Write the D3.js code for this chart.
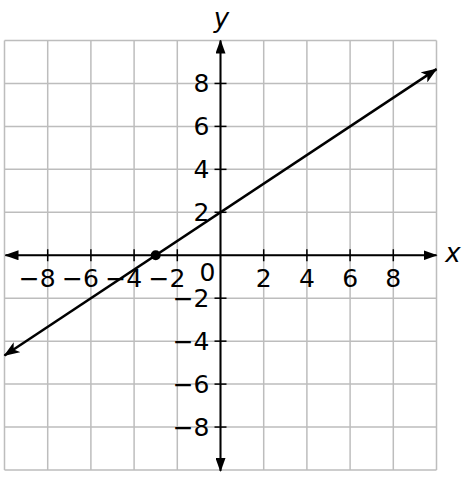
<!DOCTYPE html>
<html><head><meta charset="utf-8">
<script src="https://cdn.jsdelivr.net/npm/d3@7"></script>
<style>html,body{margin:0;padding:0;background:#fff;}svg{display:block;}</style>
</head><body>
<script>
const gridValues = [-10,-8,-6,-4,-2,0,2,4,6,8,10];
const xTickValues = [-8,-6,-4,-2,2,4,6,8];
const yTickValues = [-8,-6,-4,-2,2,4,6,8];
const lineX = [-10, 10];
const lineY = [-14/3, 26/3];
const pointX = [-3];
const pointY = [0];

const W = 466, H = 477;
const x = d3.scaleLinear().domain([-10,10]).range([4.5,436.5]);
const y = d3.scaleLinear().domain([-10,10]).range([470,40.5]);
const svg = d3.select("body").append("svg").attr("width",W).attr("height",H);
const font = "DejaVu Sans, Verdana, sans-serif";

const defs = svg.append("defs");
defs.append("marker").attr("id","arr").attr("viewBox","0 0 16 12")
  .attr("refX",15).attr("refY",6).attr("markerWidth",16).attr("markerHeight",12)
  .attr("markerUnits","userSpaceOnUse").attr("orient","auto-start-reverse")
  .append("path").attr("d","M0,0 L16,6 L0,12 L4,6 Z").attr("fill","#000");
defs.append("marker").attr("id","arrA").attr("viewBox","0 0 14 10")
  .attr("refX",13).attr("refY",5).attr("markerWidth",14).attr("markerHeight",10)
  .attr("markerUnits","userSpaceOnUse").attr("orient","auto-start-reverse")
  .append("path").attr("d","M0,0 L14,5 L0,10 Z").attr("fill","#000");

// grid
const g = svg.append("g").attr("stroke","#bdbdbd").attr("stroke-width",1.5);
g.selectAll("line.v").data(gridValues).join("line")
  .attr("x1",d=>x(d)).attr("x2",d=>x(d)).attr("y1",y(10)).attr("y2",y(-10));
g.selectAll("line.h").data(gridValues).join("line").attr("class","h")
  .attr("y1",d=>y(d)).attr("y2",d=>y(d)).attr("x1",x(-10)).attr("x2",x(10));

// axes
svg.append("line").attr("x1",x(-10)+1).attr("x2",x(10)).attr("y1",y(0)).attr("y2",y(0))
  .attr("stroke","#000").attr("stroke-width",2)
  .attr("marker-start","url(#arrA)").attr("marker-end","url(#arrA)");
svg.append("line").attr("x1",x(0)).attr("x2",x(0)).attr("y1",y(-10)+1).attr("y2",y(10))
  .attr("stroke","#000").attr("stroke-width",2)
  .attr("marker-start","url(#arrA)").attr("marker-end","url(#arrA)");

// ticks
svg.selectAll("line.xt").data(xTickValues).join("line").attr("class","xt")
  .attr("x1",d=>x(d)).attr("x2",d=>x(d)).attr("y1",y(0)-6).attr("y2",y(0)+6)
  .attr("stroke","#000").attr("stroke-width",1.5);
svg.selectAll("line.yt").data(yTickValues).join("line").attr("class","yt")
  .attr("y1",d=>y(d)).attr("y2",d=>y(d)).attr("x1",x(0)-6).attr("x2",x(0)+6)
  .attr("stroke","#000").attr("stroke-width",1.5);

// tick labels
const fs = 25;
const fmt = d => (d<0 ? "\u2212" : "") + Math.abs(d);
svg.selectAll("text.xl").data(xTickValues).join("text").attr("class","xl")
  .attr("x",d=> d<0 ? x(d)+8 : x(d))
  .attr("y",y(0)+32)
  .attr("text-anchor",d=> d<0 ? "end" : "middle")
  .attr("font-family",font).attr("font-size",fs).attr("fill","#000")
  .text(fmt);
svg.selectAll("text.yl").data(yTickValues).join("text").attr("class","yl")
  .attr("x",x(0)-11).attr("y",d=>y(d)+9)
  .attr("text-anchor","end")
  .attr("font-family",font).attr("font-size",fs).attr("fill","#000")
  .text(fmt);
svg.append("text").attr("x",x(0)-13).attr("y",y(0)+26).attr("text-anchor","middle")
  .attr("font-family",font).attr("font-size",fs).text("0");

// axis titles
svg.append("text").attr("x",x(0)+1).attr("y",27).attr("text-anchor","middle")
  .attr("font-family",font).attr("font-size",26).attr("font-style","italic").text("y");
svg.append("text").attr("x",453).attr("y",y(0)+7).attr("text-anchor","middle")
  .attr("font-family",font).attr("font-size",26).attr("font-style","italic").text("x");

// line
const pts = lineX.map((d,i)=>[x(d),y(lineY[i])]);
svg.append("path").attr("d",d3.line()(pts)).attr("stroke","#000").attr("stroke-width",2.5)
  .attr("fill","none").attr("marker-start","url(#arr)").attr("marker-end","url(#arr)");

// point
svg.selectAll("circle.p").data(pointX).join("circle").attr("class","p")
  .attr("cx",d=>x(d)).attr("cy",(d,i)=>y(pointY[i])).attr("r",5).attr("fill","#000");
</script>
</body></html>
